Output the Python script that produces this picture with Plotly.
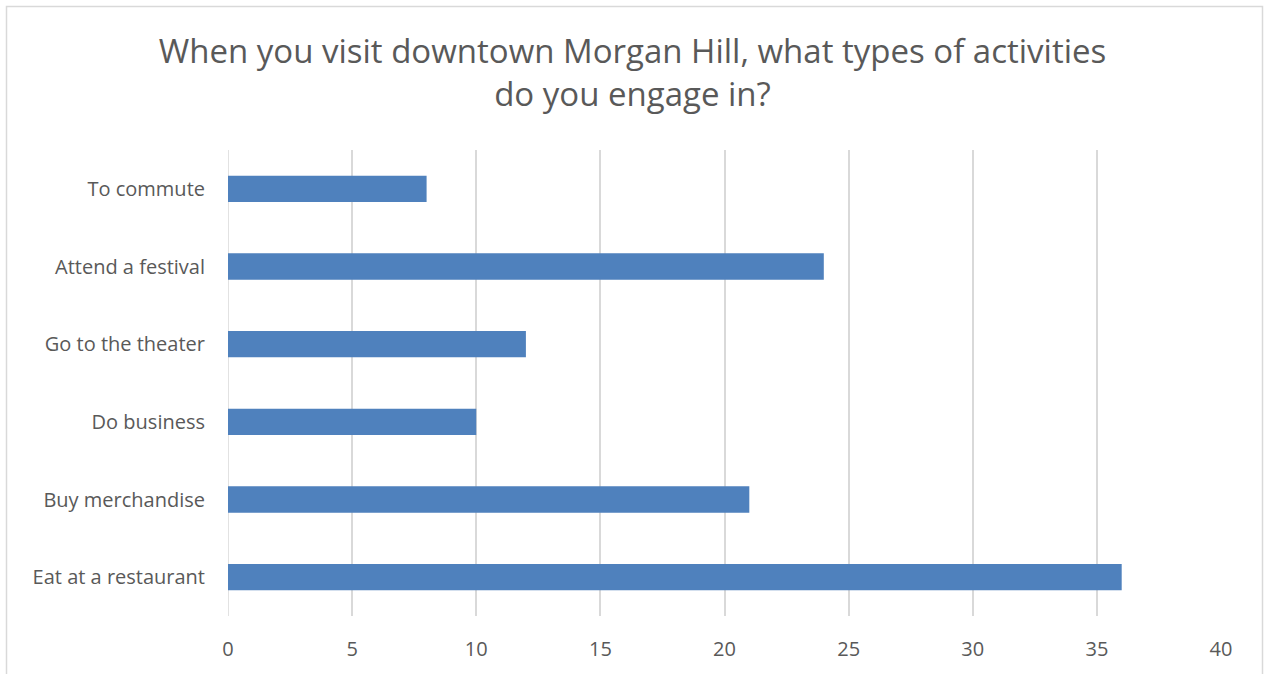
import plotly.graph_objects as go

categories = ["Eat at a restaurant", "Buy merchandise", "Do business",
              "Go to the theater", "Attend a festival", "To commute"]
counts = [36, 21, 10, 12, 24, 8]
x_ticks = [0, 5, 10, 15, 20, 25, 30, 35, 40]

W, H = 1265, 674
L, R, T, B = 228, 1221, 150, 616  # plot area in pixels

fig = go.Figure(go.Bar(
    x=counts, y=categories, orientation="h",
    marker=dict(color="#4F81BD", line=dict(width=0)),
    hoverinfo="x+y",
))

def px_to_paper_x(px):
    return (px - L) / (R - L)

def px_to_paper_y(py):
    return (B - py) / (B - T)

fig.update_layout(
    width=W, height=H,
    margin=dict(l=L, r=W - R, t=T, b=H - B, pad=0),
    paper_bgcolor="white", plot_bgcolor="white",
    bargap=0.66,
    font=dict(family="Open Sans, Liberation Sans, sans-serif", color="#595959"),
    title=dict(
        text="When you visit downtown Morgan Hill, what types of activities<br>do you engage in?",
        x=0.5, xanchor="center", y=1 - 63 / H, yanchor="top",
        font=dict(size=33, color="#595959"),
    ),
    xaxis=dict(
        range=[0, 40], tickvals=x_ticks, showgrid=True,
        gridcolor="#D9D9D9", gridwidth=1.5, zeroline=False,
        showline=False, ticks="", tickfont=dict(size=20, color="#595959"),
        ticklabelstandoff=19, fixedrange=True,
    ),
    yaxis=dict(
        categoryorder="array", categoryarray=categories,
        showgrid=False, zeroline=False, showline=False, ticks="",
        tickfont=dict(size=20, color="#595959"), ticklabelstandoff=22,
        fixedrange=True,
    ),
    shapes=[
        dict(type="line", xref="x", yref="paper", x0=0, x1=0, y0=0, y1=1,
             line=dict(color="#D9D9D9", width=1.5), layer="below"),
        dict(type="rect", xref="paper", yref="paper",
             x0=px_to_paper_x(6.5), x1=px_to_paper_x(1262.5),
             y0=px_to_paper_y(700), y1=px_to_paper_y(6.5),
             line=dict(color="#D9D9D9", width=1.5), fillcolor="rgba(0,0,0,0)"),
    ],
    showlegend=False,
)

fig.write_html("out.html", config={"displayModeBar": False})
